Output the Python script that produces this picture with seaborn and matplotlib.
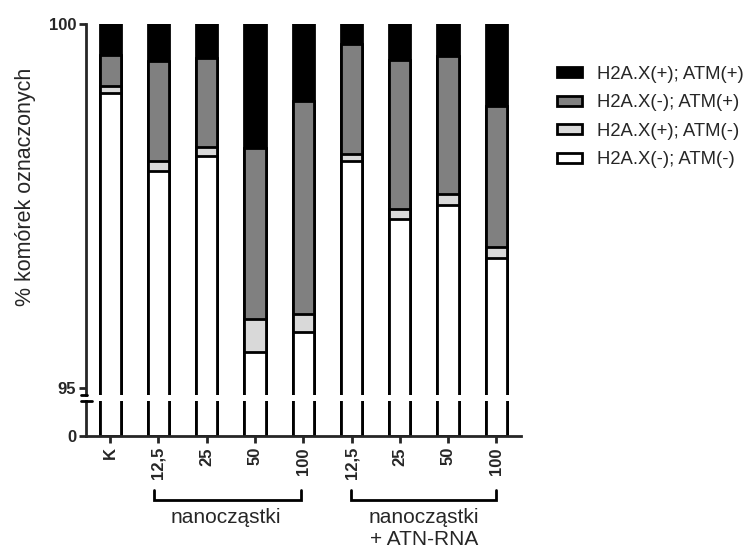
import matplotlib
matplotlib.use("Agg")
import matplotlib.pyplot as plt
from matplotlib.lines import Line2D
from matplotlib.patches import Patch
from matplotlib.transforms import blended_transform_factory
import pandas as pd
import seaborn as sns

# Groups (unique keys) and the labels printed under the bars
groups = ["K", "N12,5", "N25", "N50", "N100", "A12,5", "A25", "A50", "A100"]
tick_labels = ["K", "12,5", "25", "50", "100", "12,5", "25", "50", "100"]

# Percent of cells in each fraction
neg_neg = [99.05, 97.98, 98.18, 95.49, 95.77, 98.12, 97.32, 97.52, 96.78]   # H2A.X(-); ATM(-)
pos_neg = [0.10, 0.14, 0.13, 0.46, 0.24, 0.10, 0.14, 0.14, 0.15]            # H2A.X(+); ATM(-)
neg_pos = [0.42, 1.37, 1.22, 2.35, 2.93, 1.51, 2.05, 1.90, 1.94]            # H2A.X(-); ATM(+)
pos_pos = [0.43, 0.51, 0.47, 1.70, 1.06, 0.27, 0.49, 0.44, 1.13]            # H2A.X(+); ATM(+)

series_names = ["H2A.X(+); ATM(+)", "H2A.X(-); ATM(+)",
                "H2A.X(+); ATM(-)", "H2A.X(-); ATM(-)"]
series_colors = ["#000000", "#808080", "#d9d9d9", "#ffffff"]

df = pd.DataFrame({"grupa": groups, "nn": neg_neg, "pn": pos_neg,
                   "np": neg_pos, "pp": pos_pos})
# cumulative tops of the stacked segments
df["c_white"] = df["nn"]
df["c_light"] = df["nn"] + df["pn"]
df["c_gray"] = df["c_light"] + df["np"]
df["c_black"] = df["c_gray"] + df["pp"]
layers = ["c_black", "c_gray", "c_light", "c_white"]

sns.set_style("ticks")
plt.rcParams["font.family"] = ["Liberation Sans", "DejaVu Sans"]

W, H = 751, 553
fig = plt.figure(figsize=(W / 100, H / 100), dpi=100)

def frame(left, top, right, bottom):
    return [left / W, 1 - bottom / H, (right - left) / W, (bottom - top) / H]

ax_top = fig.add_axes(frame(86, 24, 520.5, 395))
ax_bot = fig.add_axes(frame(86, 401, 520.5, 436))

LW = 2.0
for ax in (ax_top, ax_bot):
    for col, colr in zip(layers, series_colors):
        sns.barplot(data=df, x="grupa", y=col, order=groups, color=colr,
                    saturation=1, width=0.44, edgecolor="black",
                    linewidth=LW, errorbar=None, ax=ax)
    ax.set_xlim(-0.5, 8.5)
    ax.set_xlabel("")
    ax.set_ylabel("")
    for s in ("top", "right"):
        ax.spines[s].set_visible(False)
    for s in ("left", "bottom"):
        ax.spines[s].set_linewidth(LW)
    ax.tick_params(axis="both", length=5, width=LW, direction="out", pad=2,
                   labelsize=12)

ax_top.set_ylim(95 - 7 / 72.8, 100)
ax_top.set_yticks([95, 100])
ax_top.set_yticklabels(["95", "100"], fontweight="bold")
ax_top.spines["bottom"].set_visible(False)
ax_top.tick_params(axis="x", bottom=False, labelbottom=False)

ax_bot.set_ylim(0, 10)
ax_bot.set_yticks([0])
ax_bot.set_yticklabels(["0"], fontweight="bold")
ax_bot.set_xticks(range(len(groups)))
ax_bot.set_xticklabels(tick_labels, rotation=90, fontweight="bold")
ax_bot.tick_params(axis="x", pad=3)

# axis break caps
for y, x0, x1 in ((395, 81, 87), (401, 81, 92)):
    fig.add_artist(Line2D([x0 / W, x1 / W], [1 - y / H] * 2,
                          transform=fig.transFigure, color="black", lw=LW))

fig.text(25 / W, 1 - 187 / H, "% komórek oznaczonych", rotation=90,
         ha="center", va="center", fontsize=15.5)

# group brackets below the tick labels
tr = blended_transform_factory(ax_bot.transData, fig.transFigure)
y_hi, y_lo = 1 - 490 / H, 1 - 500 / H
for x0, x1 in ((0.9, 3.95), (4.98, 8.0)):
    ax_bot.add_line(Line2D([x0, x0, x1, x1], [y_hi, y_lo, y_lo, y_hi],
                           transform=tr, color="black", lw=LW,
                           clip_on=False, solid_joinstyle="miter"))
ax_bot.text(2.4, 1 - 508 / H, "nanocząstki", transform=tr, ha="center",
            va="top", fontsize=15)
ax_bot.text(6.5, 1 - 508 / H, "nanocząstki\n+ ATN-RNA", transform=tr,
            ha="center", va="top", fontsize=15, linespacing=1.2)

handles = [Patch(facecolor=c, edgecolor="black", linewidth=LW)
           for c in series_colors]
fig.legend(handles, series_names, loc="upper left",
           bbox_to_anchor=(557 / W, 1 - 66 / H), frameon=False, fontsize=13.3,
           handlelength=1.35, handleheight=0.45, handletextpad=0.8,
           labelspacing=0.62, borderaxespad=0, borderpad=0)

fig.savefig("out.png", dpi=100)
